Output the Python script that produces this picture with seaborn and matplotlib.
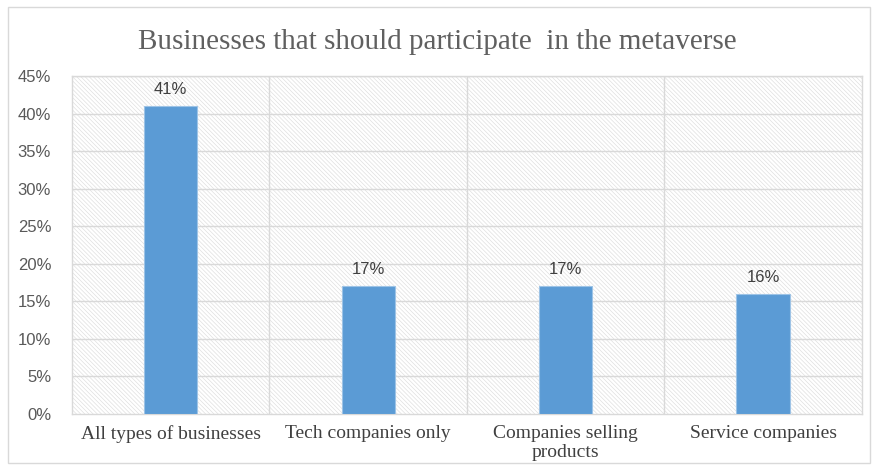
import matplotlib
matplotlib.use("Agg")
import matplotlib.pyplot as plt
from matplotlib.patches import Rectangle
from matplotlib.ticker import FuncFormatter, MultipleLocator
import seaborn as sns
import pandas as pd

categories = ["All types of businesses", "Tech companies only",
              "Companies selling\nproducts", "Service companies"]
shares = [41, 17, 17, 16]
title = "Businesses that should participate  in the metaverse"

sns.set_theme(style="white")
plt.rcParams["font.family"] = ["Liberation Sans", "DejaVu Sans"]
plt.rcParams["hatch.linewidth"] = 0.5

df = pd.DataFrame({"category": categories, "share": shares})

fig = plt.figure(figsize=(8.74, 4.69), dpi=100)
fig.patch.set_facecolor("white")
ax = fig.add_axes([0.0824, 0.1173, 0.9036, 0.7207])

# outer chart frame
fig.patches.append(Rectangle((8 / 874, 6 / 469), 862 / 874, 456 / 469,
                             transform=fig.transFigure, fill=False,
                             edgecolor="#d9d9d9", linewidth=1.0))

# finely hatched plot-area background
ax.set_facecolor("white")
ax.add_patch(Rectangle((0, 0), 1, 1, transform=ax.transAxes, facecolor="white",
                       edgecolor="#e0e0e0", hatch="\\" * 8, linewidth=0, zorder=0))

sns.barplot(data=df, x="category", y="share", color="#5b9bd5", saturation=1,
            width=0.27, edgecolor="#9dc3e6", linewidth=0.8, ax=ax, zorder=3)

ax.set_ylim(0, 45)
ax.set_xlim(-0.5, len(categories) - 0.5)
ax.yaxis.set_major_locator(MultipleLocator(5))
ax.yaxis.set_major_formatter(FuncFormatter(lambda v, _: f"{v:.0f}%"))

for y in range(5, 50, 5):
    ax.axhline(y, color="#d9d9d9", linewidth=1.0, zorder=1)
for x in [0.5, 1.5, 2.5]:
    ax.axvline(x, color="#d9d9d9", linewidth=1.0, zorder=1)

for s in ax.spines.values():
    s.set_color("#d9d9d9")
    s.set_linewidth(1.0)

for i, v in enumerate(shares):
    ax.text(i, v + 1.2, f"{v}%", ha="center", va="bottom", fontsize=12,
            color="#404040", zorder=4)

ax.set_xlabel("")
ax.set_ylabel("")
ax.tick_params(axis="y", labelsize=12, labelcolor="#595959", length=0, pad=15)
ax.tick_params(axis="x", length=0, pad=8)
for lbl in ax.get_xticklabels():
    lbl.set_fontfamily("Liberation Serif")
    lbl.set_fontsize(14)
    lbl.set_color("#404040")
    lbl.set_linespacing(1.12)

fig.text(0.5, 0.91, title, ha="center", va="center", fontsize=21,
         family="Liberation Serif", color="#606060")

fig.savefig("out.png", dpi=100, facecolor="white")
